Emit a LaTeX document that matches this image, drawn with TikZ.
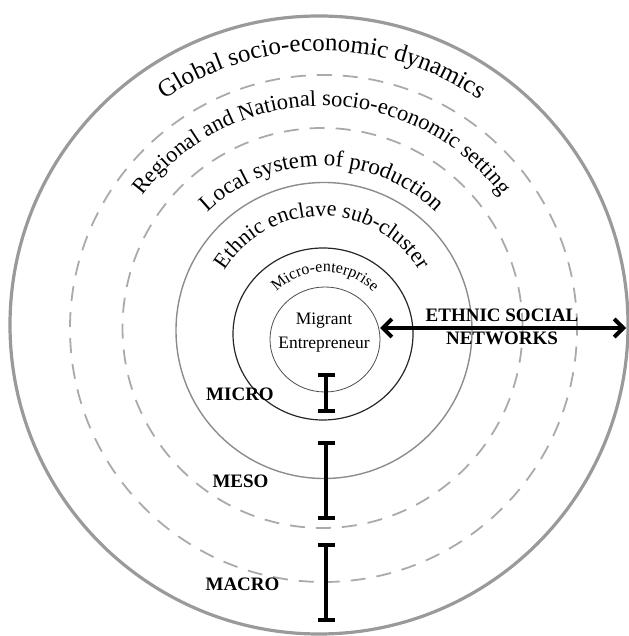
\documentclass[tikz,border=0pt]{standalone}
\usepackage{fontspec}
\setmainfont{Liberation Serif}
\usetikzlibrary{decorations.text,arrows.meta}
\definecolor{ringgray}{HTML}{9A9A9A}
\definecolor{dashgray}{HTML}{AAAAAA}
\definecolor{midgray}{HTML}{8C8C8C}
\tikzset{
  outerring/.style={draw=ringgray,line width=3.2pt},
  dashring/.style={draw=dashgray,line width=1.8pt,dash pattern=on 15pt off 11pt},
  midring/.style={draw=midgray,line width=1.4pt},
  microring/.style={draw=black!85,line width=1.2pt},
  innerring/.style={draw=black!70,line width=0.8pt},
  levellabel/.style={font=\fontsize{19}{19}\selectfont\bfseries,anchor=base,inner sep=0pt},
  levelbar/.style={line width=4.2pt,{Bar[width=17pt,line width=4pt]}-{Bar[width=17pt,line width=4pt]}},
  netarrow/.style={line width=4pt,{Straight Barb[length=9pt,width=18pt,line width=4pt]}-{Straight Barb[length=9pt,width=18pt,line width=4pt]}}
}
\begin{document}
\begin{tikzpicture}[x=1pt,y=1pt]
\useasboundingbox (0,0) rectangle (628,636);
% rings
\draw[outerring] (319,311) circle[radius=309];
\draw[dashring] (323.5,307.5) circle[radius=253.5];
\draw[dashring] (322.5,308) circle[radius=200];
\draw[midring] (324,305.5) circle[radius=148];
\draw[microring] (323,302) ellipse[x radius=90,y radius=86];
\draw[innerring] (325,296.5) ellipse[x radius=55,y radius=52.5];
% curved labels
\path[decorate,decoration={text along path,text align=center,
  text={|\fontsize{25}{25}\selectfont|Global socio-economic dynamics}}]
  (43,306) arc[start angle=180,end angle=0,radius=279];
\path[decorate,decoration={text along path,text align=center,
  text={|\fontsize{22.5}{22.5}\selectfont|Regional and National socio-economic setting}}]
  (98,306) arc[start angle=180,end angle=0,radius=224];
\path[decorate,decoration={text along path,text align=center,
  text={|\fontsize{23}{23}\selectfont|Local system of production}}]
  (158,306) arc[start angle=180,end angle=0,radius=164];
\path[decorate,decoration={text along path,text align=center,
  text={|\fontsize{22}{22}\selectfont|Ethnic enclave sub-cluster}}]
  (208,306) arc[start angle=180,end angle=0,radius=114];
\path[decorate,decoration={text along path,text align=center,
  text={|\fontsize{16}{16}\selectfont|Micro-enterprise}}]
  (257,296) arc[start angle=180,end angle=0,radius=68];
% centre
\node[align=center,inner sep=0pt,font=\fontsize{17.5}{24}\selectfont] (mig) at (324,303) {Migrant\\Entrepreneur};
% network arrow
\coordinate (netL) at (380,308);
\coordinate (netR) at (626,308);
\draw[netarrow] (netL) -- (netR);
\node[align=center,inner sep=0pt,font=\fontsize{19}{23}\selectfont\bfseries] (esn) at (502,309) {ETHNIC SOCIAL\\NETWORKS};
% levels
\node[levellabel] (micro) at (240,235) {MICRO};
\node[levellabel] (meso) at (240.5,148) {MESO};
\node[levellabel] (macro) at (242.5,45) {MACRO};
\coordinate (miT) at (326,263); \coordinate (miB) at (326,223);
\coordinate (meT) at (326,195); \coordinate (meB) at (326,116);
\coordinate (maT) at (326,93);  \coordinate (maB) at (326,14);
\draw[levelbar] (miT) -- (miB);
\draw[levelbar] (meT) -- (meB);
\draw[levelbar] (maT) -- (maB);
\end{tikzpicture}
\end{document}
